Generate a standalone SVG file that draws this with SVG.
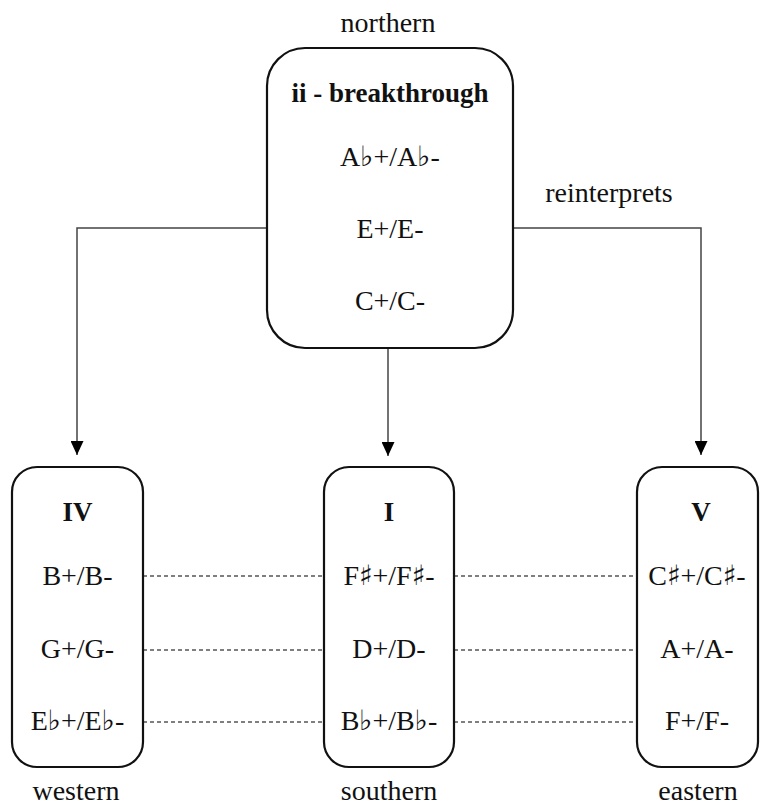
<svg xmlns="http://www.w3.org/2000/svg" width="760" height="807" viewBox="0 0 760 807">
  <style>
    text { font-family: "Liberation Serif", "DejaVu Serif", serif; font-size: 28px; fill: #111; text-anchor: middle; }
    .title { font-weight: bold; font-size: 27px; }
    .acc { font-family: "DejaVu Sans", sans-serif; font-size: 28px; }
    .box { fill: #fff; stroke: #111; stroke-width: 2.2; }
    .link { fill: none; stroke: #444; stroke-width: 1.5; }
    .dash { fill: none; stroke: #555; stroke-width: 1.3; stroke-dasharray: 4 3; }
  </style>
  <defs>
    <marker id="arrow" viewBox="0 0 14 13" refX="14" refY="6.5" markerWidth="14" markerHeight="13" markerUnits="userSpaceOnUse" orient="auto">
      <path d="M0,0 L14,6.5 L0,13 Z" fill="#000"/>
    </marker>
  </defs>

  <rect width="760" height="807" fill="#fff"/>

  <!-- connectors -->
  <g id="connectors">
    <path class="link" d="M267,228 H77 V455" marker-end="url(#arrow)"/>
    <path class="link" d="M388,348 V456" marker-end="url(#arrow)"/>
    <path class="link" d="M513,228 H701 V455" marker-end="url(#arrow)"/>
    <text x="609" y="202">reinterprets</text>
    <line class="dash" x1="143" y1="576" x2="324" y2="576"/>
    <line class="dash" x1="143" y1="650" x2="324" y2="650"/>
    <line class="dash" x1="143" y1="722" x2="324" y2="722"/>
    <line class="dash" x1="454" y1="576" x2="637" y2="576"/>
    <line class="dash" x1="454" y1="650" x2="637" y2="650"/>
    <line class="dash" x1="454" y1="722" x2="637" y2="722"/>
  </g>

  <!-- ii: breakthrough -->
  <g id="node-ii">
    <text x="388" y="32">northern</text>
    <rect class="box" x="267" y="48" width="246" height="300" rx="38" ry="38"/>
    <text class="title" x="390" y="102">ii - breakthrough</text>
    <text x="390" y="166">A<tspan class="acc">♭</tspan>+/A<tspan class="acc">♭</tspan>-</text>
    <text x="390" y="238">E+/E-</text>
    <text x="390" y="310">C+/C-</text>
  </g>

  <!-- IV -->
  <g id="node-IV">
    <rect class="box" x="12" y="467" width="131" height="300" rx="25" ry="25"/>
    <text class="title" x="77.5" y="521">IV</text>
    <text x="77.5" y="585">B+/B-</text>
    <text x="77.5" y="658">G+/G-</text>
    <text x="77.5" y="730">E<tspan class="acc">♭</tspan>+/E<tspan class="acc">♭</tspan>-</text>
    <text x="76" y="800">western</text>
  </g>

  <!-- I -->
  <g id="node-I">
    <rect class="box" x="324" y="467" width="130" height="300" rx="25" ry="25"/>
    <text class="title" x="389" y="521">I</text>
    <text x="389" y="585">F<tspan class="acc">♯</tspan>+/F<tspan class="acc">♯</tspan>-</text>
    <text x="389" y="658">D+/D-</text>
    <text x="389" y="730">B<tspan class="acc">♭</tspan>+/B<tspan class="acc">♭</tspan>-</text>
    <text x="389" y="800">southern</text>
  </g>

  <!-- V -->
  <g id="node-V">
    <rect class="box" x="637" y="467" width="121" height="300" rx="25" ry="25"/>
    <text class="title" x="701" y="521">V</text>
    <text x="697" y="585">C<tspan class="acc">♯</tspan>+/C<tspan class="acc">♯</tspan>-</text>
    <text x="697" y="658">A+/A-</text>
    <text x="697" y="730">F+/F-</text>
    <text x="698" y="800">eastern</text>
  </g>
</svg>
